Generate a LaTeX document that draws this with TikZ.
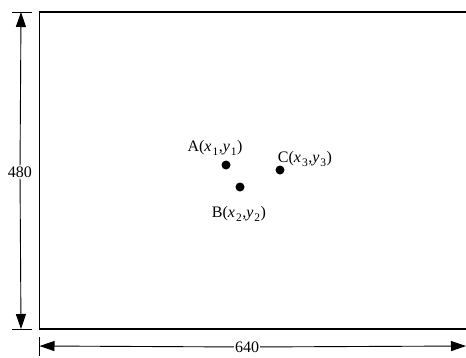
\documentclass[tikz,border=0pt]{standalone}
\usepackage{fontspec}
\setmainfont{Liberation Serif}
\usetikzlibrary{arrows.meta}
\tikzset{
  frameline/.style={line width=1.1pt},
  dimline/.style={line width=0.9pt},
  dimarrow/.style={dimline,-{Triangle[length=15pt,width=10pt]}},
  pt/.style={circle,fill=black,inner sep=0pt,minimum size=9pt},
  lbl/.style={font=\fontsize{16}{19}\selectfont,inner sep=1pt},
  dimtext/.style={font=\fontsize{16}{19}\selectfont,fill=white,inner sep=1pt}
}
\newcommand{\subnum}[1]{\kern1pt\raisebox{-3.5pt}{\fontsize{11.5}{13}\selectfont #1}\kern0.5pt}
\newcommand{\vx}[1]{\textit{x}\subnum{#1}}
\newcommand{\vy}[1]{\textit{y}\subnum{#1}}
\begin{document}
\begin{tikzpicture}[x=1pt,y=-1pt]
\useasboundingbox (0,0) rectangle (466,357);
% frame
\coordinate (tr) at (466,12);
\coordinate (tl) at (39.5,12);
\coordinate (bl) at (39.5,329);
\coordinate (br) at (466,329);
\draw[frameline] (tr) -- (tl) -- (bl) -- (br);
% vertical dimension
\coordinate (vt) at (21,12);
\coordinate (vb) at (21,329);
\coordinate (vtl) at (12,12);
\coordinate (vtr) at (32,12);
\coordinate (vbl) at (12,329);
\coordinate (vbr) at (32,329);
\draw[dimline] (vtl) -- (vtr);
\draw[dimline] (vbl) -- (vbr);
\node[dimtext] (h) at (20,172) {480};
\draw[dimarrow] (h) -- (vt);
\draw[dimarrow] (h) -- (vb);
% horizontal dimension
\coordinate (hl) at (39.5,346);
\coordinate (hr) at (466,346);
\coordinate (ht) at (39.5,337);
\coordinate (hb) at (39.5,356);
\draw[dimline] (ht) -- (hb);
\node[dimtext] (w) at (247,347) {640};
\draw[dimarrow] (w) -- (hl);
\draw[dimarrow] (w) -- (hr);
% points
\node[pt] (A) at (226,165) {};
\node[pt] (B) at (240,187) {};
\node[pt] (C) at (280,170) {};
\node[lbl] (Al) at (215,148) {A(\vx{1},\vy{1})};
\node[lbl] (Bl) at (239,214) {B(\vx{2},\vy{2})};
\node[lbl] (Cl) at (305,159) {C(\vx{3},\vy{3})};
\end{tikzpicture}
\end{document}
